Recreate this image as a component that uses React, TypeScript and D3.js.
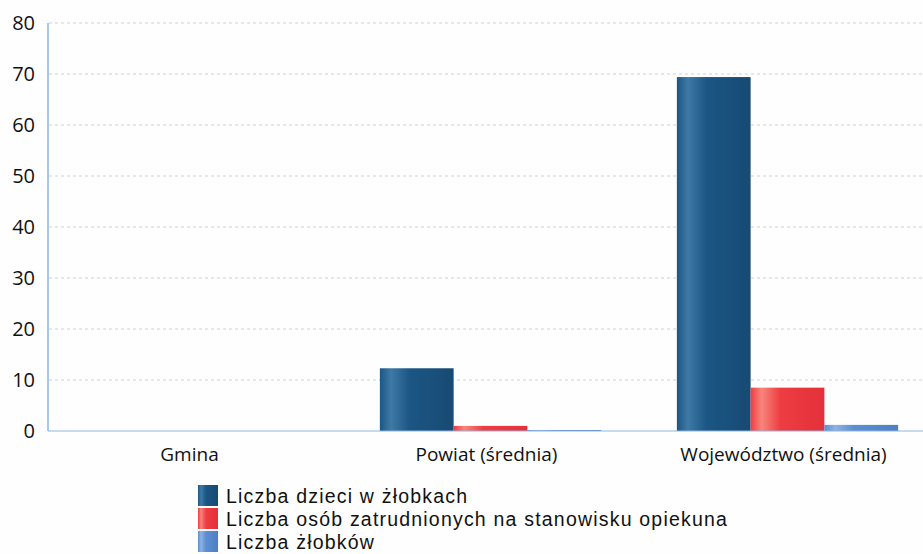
import React, { useRef, useEffect } from 'react';
import * as d3 from 'd3';

const categories = ['Gmina', 'Powiat (średnia)', 'Województwo (średnia)'];
const seriesNames = [
  'Liczba dzieci w żłobkach',
  'Liczba osób zatrudnionych na stanowisku opiekuna',
  'Liczba żłobków',
];
const children = [0, 12.3, 69.4];
const caregivers = [0, 1.0, 8.5];
const nurseries = [0, 0.2, 1.2];
const yTicks = [0, 10, 20, 30, 40, 50, 60, 70, 80];

const seriesColors = [
  ['#3f79a6', '#1c5684', '#174a74'],
  ['#f8857c', '#ee3d42', '#e4303a'],
  ['#8fb2e2', '#5b8ed2', '#4e7fc4'],
];

export default function App() {
  const ref = useRef<SVGSVGElement>(null);

  useEffect(() => {
    const svg = d3.select(ref.current);
    svg.selectAll('*').remove();

    const width = 923;
    const height = 554;
    const font = '"Open Sans", sans-serif';
    svg.attr('width', width).attr('height', height);

    svg.append('rect').attr('width', width).attr('height', height).attr('fill', '#fefefe');

    const defs = svg.append('defs');
    seriesColors.forEach((c, i) => {
      const g = defs.append('linearGradient').attr('id', `grad${i}`)
        .attr('x1', '0%').attr('x2', '100%').attr('y1', '0%').attr('y2', '0%');
      g.append('stop').attr('offset', '0%').attr('stop-color', c[1]);
      g.append('stop').attr('offset', '15%').attr('stop-color', c[0]);
      g.append('stop').attr('offset', '40%').attr('stop-color', c[1]);
      g.append('stop').attr('offset', '100%').attr('stop-color', c[2]);
    });

    const y = d3.scaleLinear().domain([0, 80]).range([431, 23]);
    const x = d3.scaleBand<string>().domain(categories).range([45, 936])
      .paddingInner(0.255).paddingOuter(0.1275);
    const keys = ['a', 'b', 'c'];
    const x1 = d3.scaleBand<string>().domain(keys).range([0, x.bandwidth()]);

    // gridlines
    svg.append('g').selectAll('line')
      .data(yTicks.filter(t => t > 0))
      .join('line')
        .attr('x1', 49).attr('x2', width)
        .attr('y1', d => y(d)).attr('y2', d => y(d))
        .attr('stroke', '#d0d0d0')
        .attr('stroke-width', 1)
        .attr('stroke-dasharray', '3,3');

    // tick labels
    svg.append('g').selectAll('text')
      .data(yTicks)
      .join('text')
        .attr('x', 35)
        .attr('y', d => y(d))
        .attr('dy', '0.35em')
        .attr('text-anchor', 'end')
        .style('font-family', font)
        .style('font-size', '20px')
        .attr('fill', '#111')
        .text(d => d);

    // bars
    const rows = categories.map((c, i) => ({ cat: c, vals: [children[i], caregivers[i], nurseries[i]] }));
    const groups = svg.append('g').selectAll('g')
      .data(rows)
      .join('g')
        .attr('transform', d => `translate(${x(d.cat)},0)`);
    groups.selectAll('rect')
      .data(d => d.vals.map((v, j) => ({ v, j })))
      .join('rect')
        .attr('x', d => x1(keys[d.j])!)
        .attr('width', x1.bandwidth())
        .attr('y', d => y(d.v))
        .attr('height', d => y(0) - y(d.v))
        .attr('fill', d => `url(#grad${d.j})`);

    // axes lines
    svg.append('line')
      .attr('x1', 48).attr('x2', 48).attr('y1', 23).attr('y2', 431)
      .attr('stroke', '#6fa3d8').attr('stroke-width', 1.2);
    svg.append('line')
      .attr('x1', 48).attr('x2', width).attr('y1', 431).attr('y2', 431)
      .attr('stroke', '#8fb4de').attr('stroke-width', 1.2);

    // category labels
    svg.append('g').selectAll('text')
      .data(categories)
      .join('text')
        .attr('x', d => x(d)! + x.bandwidth() / 2 - 4)
        .attr('y', 461)
        .attr('text-anchor', 'middle')
        .style('font-family', font)
        .style('font-size', '19px')
        .attr('fill', '#111')
        .text(d => d);

    // legend
    const legend = svg.append('g').attr('transform', 'translate(198,485)');
    const items = legend.selectAll('g')
      .data(seriesNames)
      .join('g')
        .attr('transform', (d, i) => `translate(0,${i * 23})`);
    items.append('rect')
      .attr('width', 20).attr('height', 21)
      .attr('fill', (d, i) => `url(#grad${i})`);
    items.append('text')
      .attr('x', 28).attr('y', 11)
      .attr('dy', '0.35em')
      .style('font-family', '"Liberation Sans", Arial, sans-serif')
      .style('font-size', '19.5px')
      .style('letter-spacing', '1.2px')
      .attr('fill', '#111')
      .text(d => d);
  }, []);

  return <svg ref={ref} style={{ position: 'absolute', left: 0, top: 0 }} />;
}
